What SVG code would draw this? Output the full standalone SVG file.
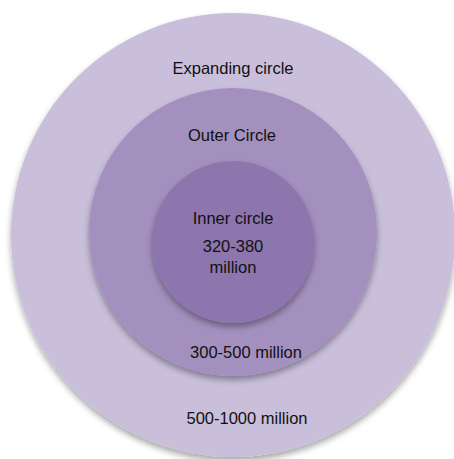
<svg xmlns="http://www.w3.org/2000/svg" width="454" height="459" viewBox="0 0 454 459">
  <defs>
    <filter id="shadow" x="-20%" y="-20%" width="140%" height="150%">
      <feDropShadow dx="0" dy="4" stdDeviation="3" flood-color="#000" flood-opacity="0.35"/>
    </filter>
    <style>
      .lbl { font-family: "Liberation Sans", Arial, sans-serif; font-size: 16.5px; fill: #111; text-anchor: middle; }
    </style>
  </defs>
  <rect width="454" height="459" fill="#fff"/>

  <g id="expanding">
    <circle cx="233" cy="235" r="222" fill="#C9BFDB" filter="url(#shadow)"/>
    <text class="lbl" x="233" y="74">Expanding circle</text>
    <text class="lbl" x="247" y="424">500-1000 million</text>
  </g>

  <g id="outer">
    <circle cx="233" cy="232" r="144" fill="#A490BE" filter="url(#shadow)"/>
    <text class="lbl" x="232" y="141">Outer Circle</text>
    <text class="lbl" x="246" y="358">300-500 million</text>
  </g>

  <g id="inner">
    <circle cx="233" cy="242" r="81" fill="#8D75AD" filter="url(#shadow)"/>
    <text class="lbl" x="233" y="224">Inner circle</text>
    <text class="lbl" x="233" y="252">320-380</text>
    <text class="lbl" x="233" y="273">million</text>
  </g>

  <g id="connectors"/>
</svg>
